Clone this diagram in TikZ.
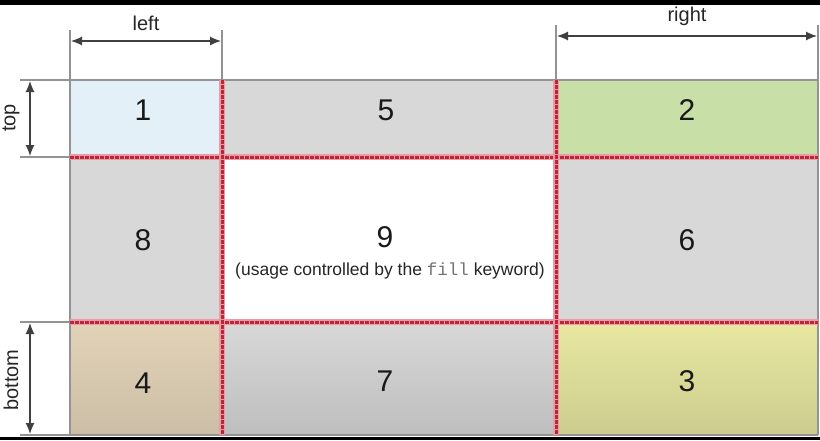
\documentclass[tikz,border=0pt]{standalone}
\usepackage{fontspec}
\setmainfont{Liberation Sans}
\setmonofont{Liberation Mono}
\usetikzlibrary{arrows.meta}

\definecolor{cellgray}{HTML}{D8D8D8}
\definecolor{cellblue}{HTML}{E4F0F8}
\definecolor{cellgreen}{HTML}{C8E0A8}
\definecolor{celltan}{HTML}{E2D3B8}
\definecolor{cellyellow}{HTML}{E8E8A2}
\definecolor{gridred}{HTML}{B82838}
\definecolor{gridpink}{HTML}{EE9AA6}

\begin{document}
\begin{tikzpicture}[x=1pt,y=-1pt,
    num/.style={font=\fontsize{30}{30}\selectfont, text=black!90},
    dimlabel/.style={font=\fontsize{20}{20}\selectfont, text=black!85},
    ext/.style={draw=gray!85, line width=2pt},
    dimline/.style={draw=black!75, line width=1.2pt, {Latex[length=11pt,width=9pt]}-{Latex[length=11pt,width=9pt]}},
    redline/.style={draw=gridpink, line width=6pt},
    reddash/.style={draw=gridred, line width=3pt, dash pattern=on 3.5pt off 1.5pt}]
  \useasboundingbox (0,0) rectangle (820,440);
  \fill[white] (0,0) rectangle (820,440);

  % cells
  \fill[cellblue] (70,80) rectangle (222,157);
  \fill[cellgray] (222,80) rectangle (556,157);
  \fill[cellgreen] (556,80) rectangle (818,157);
  \fill[cellgray] (70,157) rectangle (222,322);
  \fill[cellgray] (556,157) rectangle (818,322);
  \shade[top color=celltan, bottom color=celltan!90!black] (70,322) rectangle (222,435);
  \shade[top color=cellgray, bottom color=cellgray!88!black] (222,322) rectangle (556,435);
  \shade[top color=cellyellow, bottom color=cellyellow!88!black] (556,322) rectangle (818,435);

  % outer border and extension lines
  \draw[ext] (70,30) -- (70,435);
  \draw[ext] (222,30) -- (222,80);
  \draw[ext] (556,25) -- (556,80);
  \draw[ext] (818,25) -- (818,435);
  \draw[ext] (20,80) -- (818,80);
  \draw[ext] (20,157) -- (70,157);
  \draw[ext] (20,322) -- (70,322);
  \draw[ext] (20,435) -- (818,435);

  % red grid lines
  \foreach \y in {157,322}{
    \draw[redline] (70,\y) -- (818,\y);
    \draw[reddash] (70,\y) -- (818,\y);
  }
  \foreach \x in {222,556}{
    \draw[redline] (\x,80) -- (\x,435);
    \draw[reddash] (\x,80) -- (\x,435);
  }

  % dimensions
  \coordinate (leftA) at (71,41);
  \coordinate (leftB) at (221,41);
  \coordinate (rightA) at (557,36);
  \coordinate (rightB) at (817,36);
  \coordinate (topA) at (30,81);
  \coordinate (topB) at (30,156);
  \coordinate (botA) at (30,323);
  \coordinate (botB) at (30,434);
  \draw[dimline] (leftA) -- (leftB);
  \draw[dimline] (rightA) -- (rightB);
  \draw[dimline] (topA) -- (topB);
  \draw[dimline] (botA) -- (botB);

  \node[dimlabel] (lblleft) at (146,23) {left};
  \node[dimlabel] (lblright) at (687,16) {right};
  \node[dimlabel, rotate=90] (lbltop) at (11,118) {top};
  \node[dimlabel, rotate=90] (lblbottom) at (11,380) {bottom};

  % cell numbers
  \node[num] (n1) at (143,110) {1};
  \node[num] (n5) at (386,110) {5};
  \node[num] (n2) at (687,110) {2};
  \node[num] (n8) at (143,240) {8};
  \node[num] (n9) at (385,237) {9};
  \node[num] (n6) at (687,240) {6};
  \node[num] (n4) at (143,383) {4};
  \node[num] (n7) at (385,381) {7};
  \node[num] (n3) at (687,381) {3};
  \node[font=\fontsize{17.5}{18}\selectfont, text=black!85] (usage) at (390,271)
    {(usage controlled by the {\ttfamily\color{black!55}fill} keyword)};

  % frame edges
  \fill[black] (0,0) rectangle (820,5);
  \fill[black] (0,437) rectangle (820,440);
\end{tikzpicture}
\end{document}
